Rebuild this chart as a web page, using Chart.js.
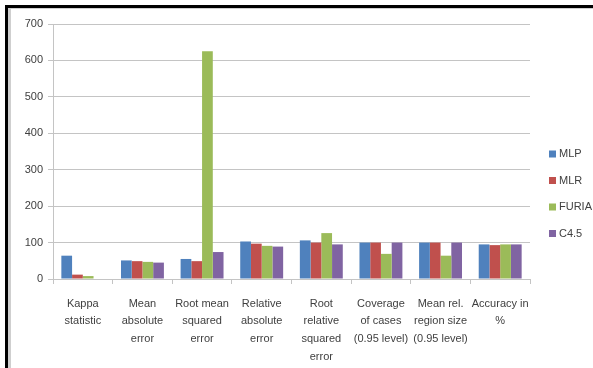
<!DOCTYPE html>
<html>
<head>
<meta charset="utf-8">
<script src="https://cdn.jsdelivr.net/npm/chart.js@4/dist/chart.umd.min.js"></script>
<style>
  html, body { margin: 0; padding: 0; background: #fff; }
  #wrap { position: relative; width: 593px; height: 368px; overflow: hidden; }
  #frame { position: absolute; left: 5px; top: 5px; right: 0; bottom: 0;
           border-top: 3px solid #000; border-left: 3px solid #000; }
  #frame-inner { position: absolute; left: 0; top: 0; right: 0; bottom: 0;
           border-top: 1px solid #cfcfcf; border-left: 3px solid #cfcfcf; }
  canvas { position: absolute; left: 0; top: 0; }
</style>
</head>
<body>
<div id="wrap">
  <div id="frame"><div id="frame-inner"></div></div>
  <canvas id="chart" width="593" height="368"></canvas>
</div>
<script>
// Evaluation measures on the x axis (multi-line labels)
const categories = [
  ["Kappa", "statistic"],
  ["Mean", "absolute", "error"],
  ["Root mean", "squared", "error"],
  ["Relative", "absolute", "error"],
  ["Root", "relative", "squared", "error"],
  ["Coverage", "of cases", "(0.95 level)"],
  ["Mean rel.", "region size", "(0.95 level)"],
  ["Accuracy in", "%"]
];

// Classifier results per measure
const mlp   = [64, 51, 55, 103, 106, 100, 100, 95];
const mlr   = [12, 49, 49,  97, 100, 100, 100, 93];
const furia = [ 8, 47, 625, 91, 126,  69,  64, 95];
const c45   = [ 0, 45, 74,  89,  95, 100, 100, 95];

const seriesNames = ["MLP", "MLR", "FURIA", "C4.5"];
const seriesColors = ["#4F81BD", "#C0504D", "#9BBB59", "#8064A2"];

const yTicks = [0, 100, 200, 300, 400, 500, 600, 700];

const FONT = "'Liberation Sans', Arial, sans-serif";
const TEXT = "#404040";
const GRID = "#c4c4c4";

// Legend drawn at the right of the plot, one row per dataset
const sideLegend = {
  id: "sideLegend",
  afterDraw(chart) {
    const ctx = chart.ctx;
    const x0 = 549, y0 = 154, step = 26.5, box = 7;
    ctx.save();
    ctx.font = "11px " + FONT;
    ctx.textBaseline = "middle";
    ctx.textAlign = "left";
    chart.data.datasets.forEach((ds, i) => {
      const y = y0 + i * step;
      ctx.fillStyle = ds.backgroundColor;
      ctx.fillRect(x0, y - box / 2, box, box);
      ctx.fillStyle = TEXT;
      ctx.fillText(ds.label, x0 + 10, y);
    });
    ctx.restore();
  }
};

const values = [mlp, mlr, furia, c45];

new Chart(document.getElementById("chart"), {
  type: "bar",
  data: {
    labels: categories,
    datasets: seriesNames.map((name, i) => ({
      label: name,
      data: values[i],
      backgroundColor: seriesColors[i],
      borderWidth: 0,
      barPercentage: 1.0,
      categoryPercentage: 0.72
    }))
  },
  options: {
    responsive: false,
    animation: false,
    devicePixelRatio: 1,
    layout: { padding: { left: 0, top: 24, right: 63, bottom: 0 } },
    plugins: {
      legend: { display: false },
      tooltip: { enabled: false }
    },
    scales: {
      x: {
        afterFit(scale) { scale.height = 89; },
        grid: {
          offset: true,
          drawOnChartArea: false,
          drawTicks: true,
          tickLength: 5,
          color: GRID
        },
        border: { color: GRID },
        ticks: {
          maxRotation: 0,
          autoSkip: false,
          padding: 11,
          color: TEXT,
          font: { family: FONT, size: 11, lineHeight: 1.6 }
        }
      },
      y: {
        min: 0,
        max: 700,
        afterFit(scale) { scale.width = 53; },
        afterBuildTicks(scale) { scale.ticks = yTicks.map(v => ({ value: v })); },
        grid: {
          color: GRID,
          tickLength: 5,
          drawTicks: true
        },
        border: { color: GRID },
        ticks: {
          padding: 5,
          color: TEXT,
          font: { family: FONT, size: 11 }
        }
      }
    }
  },
  plugins: [sideLegend]
});
</script>
</body>
</html>
